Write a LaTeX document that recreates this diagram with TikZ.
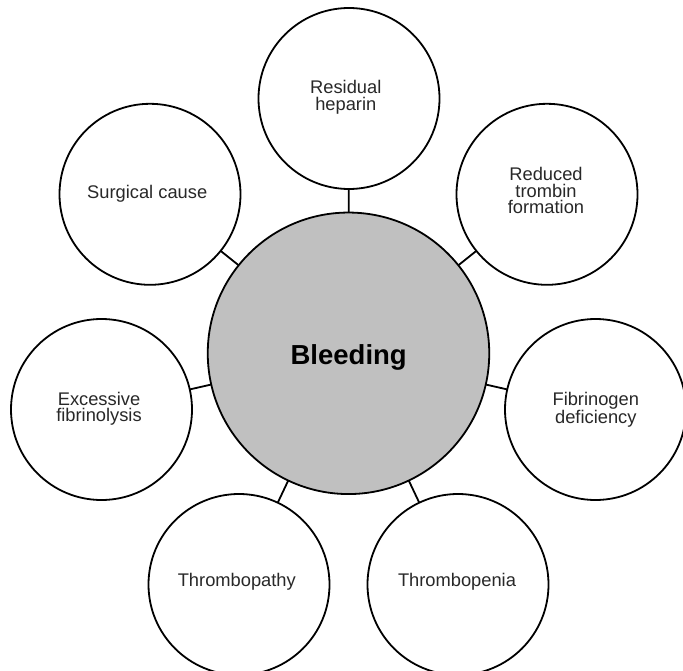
\documentclass[tikz,border=0pt]{standalone}
\usepackage{fontspec}
\setmainfont{Liberation Sans}
\definecolor{hubgray}{RGB}{192,192,192}
\definecolor{lblgray}{RGB}{40,40,40}
\begin{document}
\begin{tikzpicture}[x=1pt,y=-1pt,
  every node/.style={inner sep=0pt, outer sep=0pt},
  outerc/.style={circle, draw=black, line width=1.8pt, fill=white, minimum size=181pt},
  hub/.style={circle, draw=black, line width=1.8pt, fill=hubgray, minimum size=281.5pt},
  lbl/.style={align=center, text=lblgray, font=\fontsize{18.3}{16.5}\selectfont},
  link/.style={line width=1.8pt}]
\useasboundingbox (0,0) rectangle (683,671);
% circles
\node[hub] (hub) at (348.5,353.3) {};
\node[outerc] (res) at (349,98.5) {};
\node[outerc] (sur) at (150,194.3) {};
\node[outerc] (red) at (547,194.3) {};
\node[outerc] (exc) at (101.5,409.5) {};
\node[outerc] (fib) at (595.5,409.5) {};
\node[outerc] (tpa) at (239,584.5) {};
\node[outerc] (tpe) at (458,584.5) {};
% connectors
\draw[link] (hub) -- (res);
\draw[link] (hub) -- (sur);
\draw[link] (hub) -- (red);
\draw[link] (hub) -- (exc);
\draw[link] (hub) -- (fib);
\draw[link] (hub) -- (tpa);
\draw[link] (hub) -- (tpe);
% labels
\node[font=\bfseries\fontsize{27.5}{30}\selectfont, text=black] (thub) at (348.7,357.9) {Bleeding};
\node[lbl] (tres) at (345.8,97.5) {Residual\\heparin};
\node[lbl] (tsur) at (147.2,193.5) {Surgical cause};
\node[lbl] (tred) at (546,190.5) {Reduced\\trombin\\formation};
\node[lbl] (texc) at (99,408.9) {Excessive\\fibrinolysis};
\node[lbl] (tfib) at (595.8,409.4) {Fibrinogen\\deficiency};
\node[lbl] (ttpa) at (236.8,581.5) {Thrombopathy};
\node[lbl] (ttpe) at (457,581.5) {Thrombopenia};
\end{tikzpicture}
\end{document}
